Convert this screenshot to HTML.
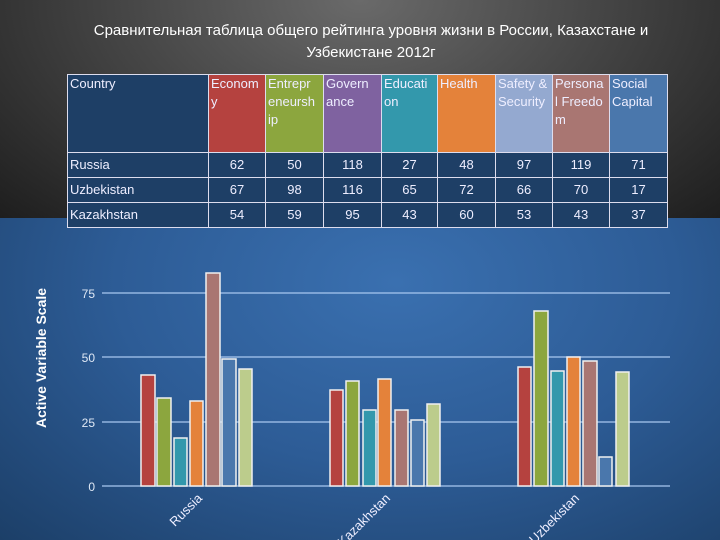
<!DOCTYPE html><html><head><meta charset="utf-8"><style>
body{margin:0;width:720px;height:540px;overflow:hidden;font-family:"Liberation Sans","DejaVu Sans",sans-serif}
#top{position:absolute;left:0;top:0;width:720px;height:218px;background:radial-gradient(ellipse at 50% 0%,#6a6a6a 0%,#474747 45%,#1e1e1e 100%)}
#bot{position:absolute;left:0;top:218px;width:720px;height:322px;background:radial-gradient(ellipse at 55% 20%,#3a70b0 0%,#2d5c96 50%,#1c3f68 100%)}
h1{position:absolute;left:0;top:20px;width:742px;margin:0;text-align:center;color:#fff;font-size:15px;line-height:22px;font-weight:normal}
table{position:absolute;left:67px;top:74px;border-collapse:collapse;color:#eef;font-size:13px}
td{border:1px solid #dde;padding:0 2px;vertical-align:top;line-height:18px}
tr.d td{background:#1e3f66;text-align:center;height:24px;vertical-align:middle}
tr.d td:first-child{text-align:left}
</style></head><body>
<div id="top"></div><div id="bot"></div>
<h1>Сравнительная таблица общего рейтинга уровня жизни в России, Казахстане и<br>Узбекистане 2012г</h1>
<table>
<tr style="height:78px"><td style="width:136px;background:#1e3f66">Country</td><td style="width:52px;background:#b5423f">Econom y</td><td style="width:53px;background:#8ca63e">Entrepr eneursh ip</td><td style="width:53px;background:#7f62a0">Govern ance</td><td style="width:51px;background:#3398ac">Educati on</td><td style="width:53px;background:#e4823a">Health</td><td style="width:52px;background:#94a9d0">Safety &amp; Security</td><td style="width:52px;background:#a97672">Persona l Freedo m</td><td style="width:53px;background:#4a77ac">Social Capital</td></tr>
<tr class="d"><td>Russia</td><td>62</td><td>50</td><td>118</td><td>27</td><td>48</td><td>97</td><td>119</td><td>71</td></tr>
<tr class="d"><td>Uzbekistan</td><td>67</td><td>98</td><td>116</td><td>65</td><td>72</td><td>66</td><td>70</td><td>17</td></tr>
<tr class="d"><td>Kazakhstan</td><td>54</td><td>59</td><td>95</td><td>43</td><td>60</td><td>53</td><td>43</td><td>37</td></tr>
</table>
<svg width="720" height="540" style="position:absolute;left:0;top:0" font-family="Liberation Sans,sans-serif">
<g stroke="#a9c8f0" stroke-width="1.2">
<line x1="102" y1="486" x2="670" y2="486"/><line x1="102" y1="422" x2="670" y2="422"/><line x1="102" y1="357" x2="670" y2="357"/><line x1="102" y1="293" x2="670" y2="293"/>
</g>
<g fill="#dfe8f5" font-size="12" text-anchor="end"><text x="95" y="491">0</text><text x="95" y="427">25</text><text x="95" y="362">50</text><text x="95" y="298">75</text></g>
<text transform="translate(46,358) rotate(-90)" fill="#fff" font-size="14" font-weight="bold" text-anchor="middle">Active Variable Scale</text>
<g stroke="#f0f0f0" stroke-width="1.5">
<rect x="141" y="375" width="14" height="111" fill="#b5423f"/><rect x="157" y="398" width="14" height="88" fill="#8ca63e"/><rect x="174" y="438" width="13" height="48" fill="#3398ac"/><rect x="190" y="401" width="13" height="85" fill="#e4823a"/><rect x="206" y="273" width="14" height="213" fill="#a97672"/><rect x="222" y="359" width="14" height="127" fill="#4a77ac"/><rect x="239" y="369" width="13" height="117" fill="#bccc8c"/>
<rect x="330" y="390" width="13" height="96" fill="#b5423f"/><rect x="346" y="381" width="13" height="105" fill="#8ca63e"/><rect x="363" y="410" width="13" height="76" fill="#3398ac"/><rect x="378" y="379" width="13" height="107" fill="#e4823a"/><rect x="395" y="410" width="13" height="76" fill="#a97672"/><rect x="411" y="420" width="13" height="66" fill="#4a77ac"/><rect x="427" y="404" width="13" height="82" fill="#bccc8c"/>
<rect x="518" y="367" width="13" height="119" fill="#b5423f"/><rect x="534" y="311" width="14" height="175" fill="#8ca63e"/><rect x="551" y="371" width="13" height="115" fill="#3398ac"/><rect x="567" y="357" width="13" height="129" fill="#e4823a"/><rect x="583" y="361" width="14" height="125" fill="#a97672"/><rect x="599" y="457" width="13" height="29" fill="#4a77ac"/><rect x="616" y="372" width="13" height="114" fill="#bccc8c"/>
</g>
<g fill="#eef" font-size="13" text-anchor="end">
<text transform="translate(203,499) rotate(-45)">Russia</text>
<text transform="translate(391,499) rotate(-45)">Kazakhstan</text>
<text transform="translate(580,499) rotate(-45)">Uzbekistan</text>
</g>
</svg>
</body></html>
